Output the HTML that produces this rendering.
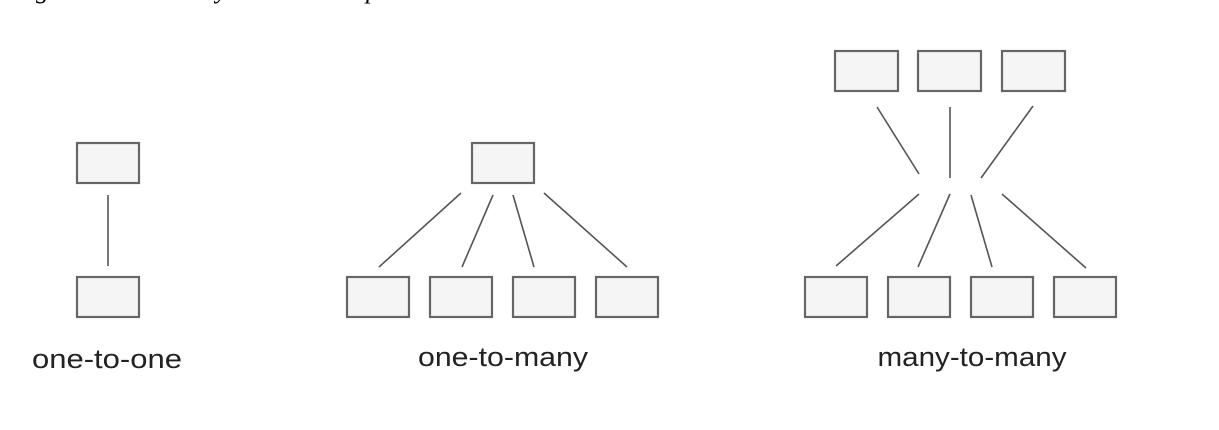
<!DOCTYPE html>
<html><head><meta charset="utf-8"><style>
html,body{margin:0;padding:0;background:#fff;width:1219px;height:430px;overflow:hidden;position:relative}
.t{position:absolute;font-family:"Liberation Serif",serif;font-style:italic;font-size:26px;color:#000;top:-25px}
svg{position:absolute;left:0;top:0}
</style></head><body>
<div class="t" style="left:36px">g</div>
<div class="t" style="left:216px">y</div>
<div class="t" style="left:366px">p</div>
<svg width="1219" height="430" xmlns="http://www.w3.org/2000/svg">
<g fill="#f5f5f5" stroke="#666" stroke-width="2.2">
<rect x="77" y="143" width="62" height="40"/>
<rect x="77" y="277" width="62" height="40"/>
<rect x="472" y="143" width="62" height="40"/>
<rect x="347" y="277" width="62" height="40"/>
<rect x="430" y="277" width="62" height="40"/>
<rect x="513" y="277" width="62" height="40"/>
<rect x="596" y="277" width="62" height="40"/>
<rect x="835" y="51" width="63" height="40"/>
<rect x="918" y="51" width="63" height="40"/>
<rect x="1002" y="51" width="63" height="40"/>
<rect x="805" y="277" width="62" height="40"/>
<rect x="888" y="277" width="62" height="40"/>
<rect x="971" y="277" width="62" height="40"/>
<rect x="1054" y="277" width="62" height="40"/>
</g>
<g stroke="#555" stroke-width="1.6" fill="none">
<line x1="108" y1="195" x2="108" y2="266"/>
<line x1="461" y1="193" x2="379" y2="267"/>
<line x1="493" y1="195" x2="462" y2="267"/>
<line x1="513" y1="195" x2="534" y2="267"/>
<line x1="544" y1="193" x2="627" y2="267"/>
<line x1="877" y1="107" x2="919" y2="174"/>
<line x1="950" y1="107" x2="950" y2="178"/>
<line x1="1033" y1="106" x2="981" y2="178"/>
<line x1="919" y1="194" x2="836" y2="266"/>
<line x1="950" y1="194" x2="918" y2="267"/>
<line x1="971" y1="195" x2="992" y2="267"/>
<line x1="1002" y1="194" x2="1086" y2="268"/>
</g>
<g font-family="Liberation Sans, sans-serif" font-size="27" fill="#222" text-anchor="middle">
<text x="107" y="368" textLength="150" lengthAdjust="spacingAndGlyphs">one-to-one</text>
<text x="503" y="366" textLength="170" lengthAdjust="spacingAndGlyphs">one-to-many</text>
<text x="972" y="366" textLength="189" lengthAdjust="spacingAndGlyphs">many-to-many</text>
</g>
</svg>
</body></html>
